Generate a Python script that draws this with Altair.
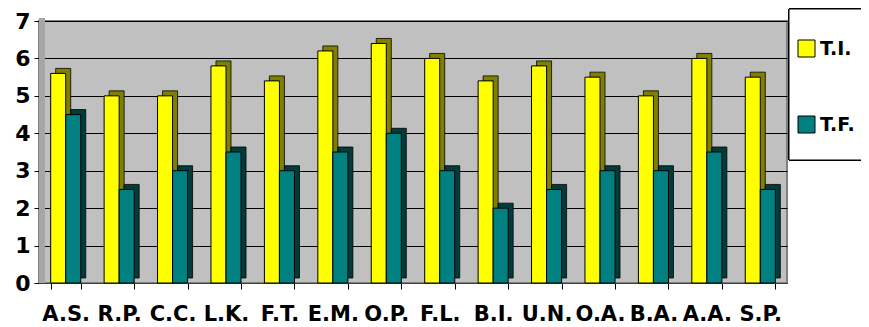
import altair as alt
import pandas as pd

categories = ["A.S.", "R.P.", "C.C.", "L.K.", "F.T.", "E.M.", "O.P.", "F.L.", "B.I.", "U.N.", "O.A.", "B.A.", "A.A.", "S.P."]
series = ["T.I.", "T.F."]
ti_values = [5.6, 5.0, 5.0, 5.8, 5.4, 6.2, 6.4, 6.0, 5.4, 5.8, 5.5, 5.0, 6.0, 5.5]
tf_values = [4.5, 2.5, 3.0, 3.5, 3.0, 3.5, 4.0, 3.0, 2.0, 2.5, 3.0, 3.0, 3.5, 2.5]
y_ticks = [0, 1, 2, 3, 4, 5, 6, 7]

front_colors = ["#ffff00", "#008080"]
side_colors = ["#808000", "#003c3c"]

rows = []
for c, a, b in zip(categories, ti_values, tf_values):
    rows.append({"cat": c, "series": series[0], "value": a})
    rows.append({"cat": c, "series": series[1], "value": b})
df = pd.DataFrame(rows)

FONT = "DejaVu Sans"
W, H = 748, 262
STEP = W / 14.0
BAND = STEP * 0.5625
DEPTH = 5

x_enc = alt.X(
    "cat:N", sort=categories, title=None,
    scale=alt.Scale(paddingInner=0.4375, paddingOuter=0.21875),
    axis=alt.Axis(labelAngle=0, labelFont=FONT, labelFontSize=21, labelFontWeight="bold",
                  labelColor="black", labelPadding=14, tickBand="extent", tickSize=6,
                  tickColor="black", domainColor="#404040", labelOverlap=False, grid=False),
)
y_enc = alt.Y(
    "value:Q", title=None,
    scale=alt.Scale(domain=[0, 7], nice=False),
    axis=alt.Axis(values=y_ticks, labelFont=FONT, labelFontSize=22, labelFontWeight="bold",
                  labelColor="black", labelPadding=4, tickSize=5, tickColor="black",
                  domainColor="#808080", gridColor="black", gridWidth=1),
)

wall = alt.Chart(df).mark_rect(fill="#a6a6a6").encode(
    x=alt.value(0), x2=alt.value(6), y=alt.value(-3), y2=alt.value(H)
)

back = alt.Chart(df).mark_bar(stroke="black", strokeWidth=0.8, yOffset=-DEPTH, y2Offset=-DEPTH).encode(
    x=x_enc,
    xOffset=alt.XOffset("series:N", sort=series,
                        scale=alt.Scale(domain=series, range=[DEPTH, BAND + DEPTH],
                                        paddingInner=0, paddingOuter=0)),
    y=y_enc,
    color=alt.Color("series:N", sort=series, scale=alt.Scale(domain=series, range=side_colors), legend=None),
)

front = alt.Chart(df).mark_bar(stroke="black", strokeWidth=1).encode(
    x=x_enc,
    xOffset=alt.XOffset("series:N", sort=series,
                        scale=alt.Scale(domain=series, range=[0, BAND],
                                        paddingInner=0, paddingOuter=0)),
    y=y_enc,
    color=alt.Color("series:N", sort=series,
                    scale=alt.Scale(domain=series, range=front_colors),
                    legend=alt.Legend(title=None, orient="none", legendX=758, legendY=18,
                                      symbolType="square", symbolSize=289,
                                      symbolStrokeColor="black", symbolStrokeWidth=1,
                                      labelFont=FONT, labelFontSize=19, labelFontWeight="bold",
                                      labelColor="black", labelOffset=4, rowPadding=55, padding=0)),
)

legend_box = alt.Chart(df).mark_rect(fill="white", stroke="black", strokeWidth=1).encode(
    x=alt.value(750), x2=alt.value(860), y=alt.value(-12), y2=alt.value(139)
)

chart = alt.layer(wall, back, front, legend_box).resolve_scale(
    color="independent", xOffset="independent"
).properties(
    width=W, height=H,
    padding={"left": 31, "top": 13, "right": 74, "bottom": 44},
    autosize=alt.AutoSizeParams(type="none"),
).configure_view(fill="#c0c0c0", stroke="#808080", strokeWidth=2)

chart.save("out.html", embed_options={"renderer": "svg", "actions": False})
